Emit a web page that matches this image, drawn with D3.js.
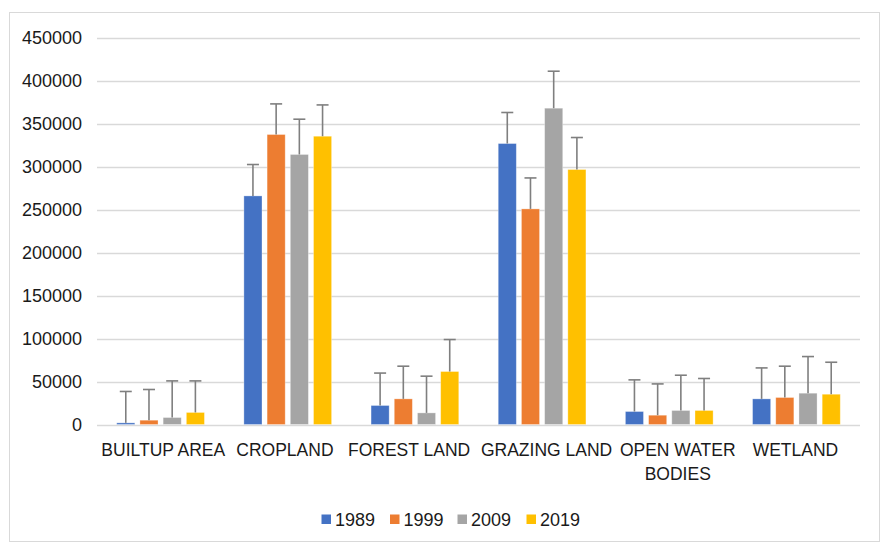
<!DOCTYPE html>
<html><head><meta charset="utf-8">
<script src="https://cdn.jsdelivr.net/npm/d3@7"></script>
<style>body{margin:0;background:#fff}svg{display:block;font-family:"Liberation Sans",Arial,sans-serif}</style>
</head><body>
<script>
const categories = ["BUILTUP AREA","CROPLAND","FOREST LAND","GRAZING LAND","OPEN WATER BODIES","WETLAND"];
const categoryLines = [["BUILTUP AREA"],["CROPLAND"],["FOREST LAND"],["GRAZING LAND"],["OPEN WATER","BODIES"],["WETLAND"]];
const years = ["1989","1999","2009","2019"];
const colors = ["#4472C4","#ED7D31","#A5A5A5","#FFC000"];
const values1989 = [1900, 265800, 22100, 326700, 15100, 29800];
const values1999 = [5000, 337200, 29800, 250700, 10800, 31400];
const values2009 = [8100, 314000, 13500, 367800, 16300, 36400];
const values2019 = [14000, 335200, 61600, 296500, 16300, 35200];
const errors1989 = [36500, 36500, 37700, 36100, 36800, 36000];
const errors1999 = [35700, 35600, 38000, 36000, 36400, 36400];
const errors2009 = [42600, 41000, 42700, 43000, 41000, 42600];
const errors2019 = [36700, 36400, 37200, 37200, 37200, 37200];
const yTicks = [0,50000,100000,150000,200000,250000,300000,350000,400000,450000];

const seriesValues = [values1989, values1999, values2009, values2019];
const seriesErrors = [errors1989, errors1999, errors2009, errors2019];

const W = 882, H = 546;
const svg = d3.select("body").append("svg").attr("width", W).attr("height", H);

svg.append("rect").attr("x", 9.5).attr("y", 12.5).attr("width", 870).attr("height", 529)
  .attr("fill", "#fff").attr("stroke", "#d9d9d9").attr("stroke-width", 1);

const plotLeft = 97, plotRight = 860, plotTop = 37.5, plotBottom = 424.5;
const y = d3.scaleLinear().domain([0, 450000]).range([plotBottom, plotTop]);
const x0 = d3.scaleBand().domain(categories).range([plotLeft, plotRight]).paddingInner(0).paddingOuter(0);
const x1 = d3.scaleBand().domain(years).range([0, x0.bandwidth()]).paddingInner(0.22).paddingOuter(0.85);

// gridlines
svg.append("g").selectAll("line").data(yTicks).join("line")
  .attr("x1", plotLeft).attr("x2", plotRight)
  .attr("y1", d => Math.round(y(d)) + 0.5).attr("y2", d => Math.round(y(d)) + 0.5)
  .attr("stroke", "#d9d9d9").attr("stroke-width", 1.3);

// y tick labels
svg.append("g").selectAll("text").data(yTicks).join("text")
  .attr("x", 82).attr("y", d => y(d)).attr("dy", "0.36em")
  .attr("text-anchor", "end").attr("font-size", 18).attr("fill", "#1a1a1a")
  .text(d => d3.format("d")(d));

// bars
const rows = [];
years.forEach((yr, si) => categories.forEach((c, ci) => rows.push({yr, si, c, ci, v: seriesValues[si][ci], e: seriesErrors[si][ci]})));

svg.append("g").selectAll("rect").data(rows).join("rect")
  .attr("x", d => x0(d.c) + x1(d.yr))
  .attr("width", x1.bandwidth())
  .attr("y", d => y(d.v))
  .attr("height", d => y(0) - y(d.v))
  .attr("fill", d => colors[d.si])
  .attr("stroke", "#fff").attr("stroke-opacity", 0.4).attr("stroke-width", 0.8);

// error bars (plus direction with cap)
const eg = svg.append("g").attr("stroke", "#7f7f7f").attr("stroke-width", 1.6);
rows.forEach(d => {
  const cx = x0(d.c) + x1(d.yr) + x1.bandwidth() / 2;
  eg.append("line").attr("x1", cx).attr("x2", cx).attr("y1", y(d.v)).attr("y2", y(d.v + d.e));
  eg.append("line").attr("x1", cx - 6).attr("x2", cx + 6).attr("y1", y(d.v + d.e)).attr("y2", y(d.v + d.e));
});

// category labels (small horizontal nudges mimic the source's label placement)
const labelNudge = [2.7, -2.8, -5.8, 4.5, 8.5, -1];
const cg = svg.append("g");
categories.forEach((c, ci) => {
  const cx = x0(c) + x0.bandwidth() / 2 + labelNudge[ci];
  const t = cg.append("text").attr("x", cx).attr("y", 456)
    .attr("text-anchor", "middle").attr("font-size", 17.5).attr("fill", "#1a1a1a");
  categoryLines[ci].forEach((ln, li) => {
    t.append("tspan").attr("x", cx).attr("dy", li === 0 ? 0 : 24).text(ln);
  });
});

// legend
const legendX = [321.5, 390, 457.5, 526.5];
const lg = svg.append("g");
years.forEach((yr, i) => {
  lg.append("rect").attr("x", legendX[i]).attr("y", 514.5).attr("width", 9.5).attr("height", 9.5).attr("fill", colors[i]);
  lg.append("text").attr("x", legendX[i] + 13.5).attr("y", 526).attr("font-size", 18).attr("fill", "#1a1a1a").text(yr);
});
</script>
</body></html>
